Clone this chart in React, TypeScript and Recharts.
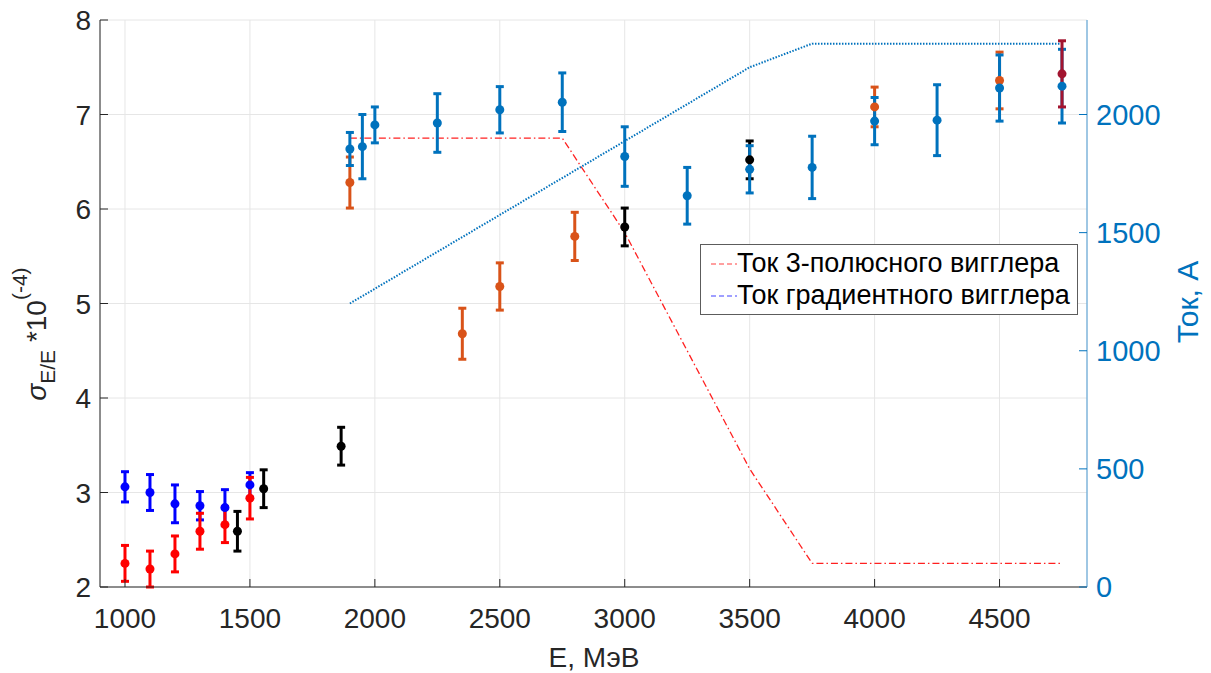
import React from 'react';
import { ComposedChart, Scatter, Line, XAxis, YAxis, CartesianGrid, ErrorBar } from 'recharts';

// energy axis, MeV
const xTicks = [1000, 1500, 2000, 2500, 3000, 3500, 4000, 4500];
const sigmaTicks = [2, 3, 4, 5, 6, 7, 8];
const currentTicks = [0, 500, 1000, 1500, 2000];

// low energy runs
const blueE = [1000, 1100, 1200, 1300, 1400, 1500];
const blueSigma = [3.06, 3.0, 2.88, 2.86, 2.84, 3.08];
const blueErr = [0.16, 0.19, 0.2, 0.15, 0.19, 0.13];

const redE = [1000, 1100, 1200, 1300, 1400, 1500];
const redSigma = [2.25, 2.19, 2.35, 2.59, 2.66, 2.94];
const redErr = [0.19, 0.19, 0.19, 0.19, 0.19, 0.22];

const blackE = [1450, 1555, 1865, 3000, 3500];
const blackSigma = [2.59, 3.04, 3.49, 5.81, 6.52];
const blackErr = [0.21, 0.2, 0.2, 0.2, 0.2];

const orangeE = [1900, 2350, 2500, 2800, 4000, 4500];
const orangeSigma = [6.28, 4.68, 5.18, 5.71, 7.08, 7.36];
const orangeErr = [0.27, 0.27, 0.25, 0.255, 0.21, 0.3];

const mBlueE = [1900, 1950, 2000, 2250, 2500, 2750, 3000, 3250, 3500, 3750, 4000, 4250, 4500, 4750];
const mBlueSigma = [6.635, 6.66, 6.89, 6.91, 7.05, 7.13, 6.555, 6.14, 6.42, 6.44, 6.93, 6.94, 7.28, 7.3];
const mBlueErr = [0.175, 0.34, 0.19, 0.31, 0.245, 0.31, 0.315, 0.3, 0.25, 0.33, 0.25, 0.375, 0.35, 0.39];

const darkRedE = [4750];
const darkRedSigma = [7.43];
const darkRedErr = [0.35];

// wiggler currents, A
const threePoleE = [1900, 2750, 3000, 3500, 3750, 4750];
const threePoleI = [1900, 1900, 1500, 500, 100, 100];
const gradE = [1900, 3500, 3750, 4750];
const gradI = [1200, 2200, 2300, 2300];

const FONT = '"Liberation Sans", Arial, Helvetica, sans-serif';
const AX = '#262626';
const RBLUE = '#0072BD';

const pts = (e: number[], s: number[], err: number[]) => e.map((v, i) => ({ e: v, s: s[i], err: err[i] }));
const curr = (e: number[], c: number[]) => e.map((v, i) => ({ e: v, i: c[i] }));

const dot = (color: string) => (p: any) => <circle cx={p.cx} cy={p.cy} r={4.5} fill={color} />;

const BottomTick = (p: any) => (
  <g>
    <line x1={p.x} x2={p.x} y1={587} y2={579} stroke={AX} />
    <text x={p.x} y={628} textAnchor="middle" fontSize={28} fill={AX} fontFamily={FONT}>{p.payload.value}</text>
  </g>
);
const TopTick = (p: any) => <line x1={p.x} x2={p.x} y1={20} y2={28} stroke={AX} />;
const LeftTick = (p: any) => (
  <g>
    <line x1={100} x2={108} y1={p.y} y2={p.y} stroke={AX} />
    <text x={91} y={p.y + 10} textAnchor="end" fontSize={28} fill={AX} fontFamily={FONT}>{p.payload.value}</text>
  </g>
);
const RightTick = (p: any) => (
  <g>
    <line x1={1087} x2={1079} y1={p.y} y2={p.y} stroke={RBLUE} />
    <text x={1096} y={p.y + 10} textAnchor="start" fontSize={29} fill={RBLUE} fontFamily={FONT}>{p.payload.value}</text>
  </g>
);

const LeftTitle = () => (
  <text transform="translate(46,334) rotate(-90)" textAnchor="middle" fontSize={28} fill={AX} fontFamily={FONT}>
    <tspan fontStyle="italic">σ</tspan>
    <tspan fontSize={21} dy={9}>E/E</tspan>
    <tspan dy={-9}> *10</tspan>
    <tspan fontSize={21} dy={-19}>(-4)</tspan>
  </text>
);
const RightTitle = () => (
  <text transform="translate(1198,302) rotate(-90)" textAnchor="middle" fontSize={30} fill={RBLUE} fontFamily={FONT}>
    Ток, А
  </text>
);
const BottomTitle = () => (
  <text x={594} y={667} textAnchor="middle" fontSize={28} fill={AX} fontFamily={FONT}>E, МэВ</text>
);

const series = [
  { key: 'b', data: pts(blueE, blueSigma, blueErr), color: '#0000FF' },
  { key: 'r', data: pts(redE, redSigma, redErr), color: '#FF0000' },
  { key: 'k', data: pts(blackE, blackSigma, blackErr), color: '#000000' },
  { key: 'o', data: pts(orangeE, orangeSigma, orangeErr), color: '#D95319' },
  { key: 'm', data: pts(mBlueE, mBlueSigma, mBlueErr), color: '#0072BD' },
  { key: 'd', data: pts(darkRedE, darkRedSigma, darkRedErr), color: '#A2142F' },
];

function Swatch({ color }: { color: string }) {
  return (
    <svg width={26} height={4} style={{ position: 'absolute', left: 10, top: 15 }}>
      <line x1={0} x2={26} y1={2} y2={2} stroke={color} strokeWidth={1.5} strokeDasharray="5 3" />
    </svg>
  );
}

export default function App() {
  return (
    <div style={{ position: 'absolute', left: 0, top: 0, width: 1211, height: 673, background: '#fff' }}>
      <ComposedChart width={1211} height={673} margin={{ top: 20, right: 0, bottom: 0, left: 0 }}>
        <CartesianGrid xAxisId="bottom" yAxisId="left" stroke="#e6e6e6" />
        <XAxis
          xAxisId="bottom"
          dataKey="e"
          type="number"
          domain={[900, 4850]}
          allowDataOverflow
          ticks={xTicks}
          height={86}
          stroke={AX}
          tickLine={false}
          tick={<BottomTick />}
          label={<BottomTitle />}
        />
        <XAxis
          xAxisId="top"
          orientation="top"
          dataKey="e"
          type="number"
          domain={[900, 4850]}
          allowDataOverflow
          ticks={xTicks}
          height={0}
          stroke={AX}
          tickLine={false}
          tick={<TopTick />}
        />
        <YAxis
          yAxisId="left"
          dataKey="s"
          type="number"
          domain={[2, 8]}
          allowDataOverflow
          ticks={sigmaTicks}
          width={100}
          stroke={AX}
          tickLine={false}
          tick={<LeftTick />}
          label={<LeftTitle />}
        />
        <YAxis
          yAxisId="right"
          orientation="right"
          dataKey="i"
          type="number"
          domain={[0, 2400]}
          allowDataOverflow
          ticks={currentTicks}
          width={124}
          stroke="#4a9bd4"
          tickLine={false}
          tick={<RightTick />}
          label={<RightTitle />}
        />
        <Line
          xAxisId="bottom"
          yAxisId="right"
          data={curr(threePoleE, threePoleI)}
          dataKey="i"
          stroke="#FF2020"
          strokeWidth={1.3}
          strokeDasharray="7 3 1.5 3"
          dot={false}
          activeDot={false}
          isAnimationActive={false}
        />
        <Line
          xAxisId="bottom"
          yAxisId="right"
          data={curr(gradE, gradI)}
          dataKey="i"
          stroke="#0072BD"
          strokeWidth={2}
          strokeDasharray="1.5 1.5"
          dot={false}
          activeDot={false}
          isAnimationActive={false}
        />
        {series.map((s) => (
          <Scatter
            key={s.key}
            xAxisId="bottom"
            yAxisId="left"
            data={s.data}
            dataKey="s"
            fill={s.color}
            shape={dot(s.color)}
            isAnimationActive={false}
          >
            <ErrorBar dataKey="err" direction="y" width={4} strokeWidth={3} stroke={s.color} />
          </Scatter>
        ))}
      </ComposedChart>
      <div
        style={{
          position: 'absolute',
          left: 700,
          top: 244,
          width: 378,
          height: 71,
          boxSizing: 'border-box',
          border: '1px solid #5c5c5c',
          background: '#fff',
          fontFamily: FONT,
          fontSize: 27,
          color: '#000',
        }}
      >
        <div style={{ position: 'absolute', left: 0, top: 2, height: 33, lineHeight: '33px', width: 376 }}>
          <Swatch color="#ff8080" />
          <span style={{ position: 'absolute', left: 36 }}>Ток 3-полюсного вигглера</span>
        </div>
        <div style={{ position: 'absolute', left: 0, top: 34, height: 33, lineHeight: '33px', width: 376 }}>
          <Swatch color="#8080ff" />
          <span style={{ position: 'absolute', left: 36 }}>Ток градиентного вигглера</span>
        </div>
      </div>
    </div>
  );
}
